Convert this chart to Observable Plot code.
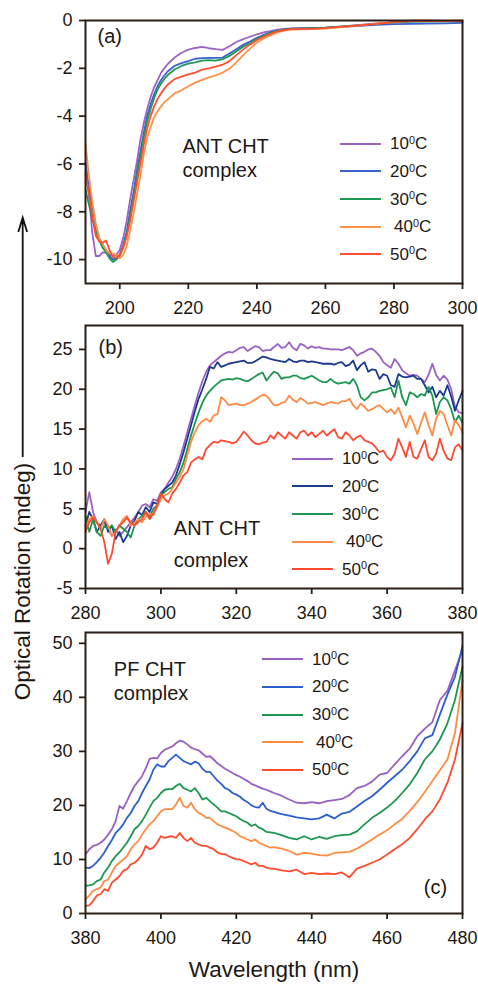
<!DOCTYPE html>
<html><head><meta charset="utf-8">
<script src="https://cdn.jsdelivr.net/npm/d3@7"></script>
<script src="https://cdn.jsdelivr.net/npm/@observablehq/plot@0.6"></script>
<style>
body{margin:0;background:#fff;}
#page{position:relative;width:478px;height:984px;overflow:hidden;background:#fff;font-family:"Liberation Sans",Arial,sans-serif;color:#1e1712;}
.panel{position:absolute;left:0;}
.legend{position:absolute;font-size:17px;line-height:1;}
.legend .row{display:flex;align-items:center;height:27.65px;white-space:nowrap;}
.legend .sw{display:inline-block;width:41px;height:2px;}
.legend .sup{font-size:0.64em;position:relative;top:-0.5em;}
</style></head><body><div id="page"></div>
<script>
// ---------- data ----------
const temps = ["10","20","30","40","50"];

// panel (a): ANT CHT complex, far-UV
const wlA = [190,191,192,193,194,195,196,197,198,199,200,201,202,203,204,205,206,207,208,209,210,211,212,213,214,216,218,220,222,224,226,228,230,232,234,236,238,240,242,244,246,248,250,255,260,265,270,275,280,285,290,295,300];
const a10 = [-5.9,-7.3,-8.9,-9.85,-9.85,-9.7,-9.72,-9.8,-9.85,-9.8,-9.6,-9.1,-8.4,-7.5,-6.7,-5.9,-5.0,-4.3,-3.7,-3.2,-2.8,-2.5,-2.2,-2.0,-1.82,-1.55,-1.35,-1.22,-1.15,-1.1,-1.16,-1.2,-1.23,-1.08,-0.9,-0.78,-0.68,-0.58,-0.5,-0.44,-0.38,-0.35,-0.33,-0.32,-0.3,-0.25,-0.18,-0.12,-0.08,-0.05,-0.04,-0.03,-0.02];
const a20 = [-6.0,-7.0,-7.8,-8.6,-9.1,-9.4,-9.6,-9.85,-10.0,-9.95,-9.8,-9.4,-8.85,-8.0,-7.2,-6.3,-5.5,-4.7,-4.0,-3.5,-3.1,-2.75,-2.5,-2.3,-2.12,-1.9,-1.78,-1.7,-1.6,-1.57,-1.56,-1.56,-1.55,-1.38,-1.2,-1.02,-0.88,-0.72,-0.6,-0.5,-0.42,-0.37,-0.34,-0.32,-0.31,-0.27,-0.22,-0.18,-0.15,-0.14,-0.13,-0.12,-0.1];
const a30 = [-7.1,-7.7,-8.3,-8.8,-9.2,-9.5,-9.7,-9.95,-10.1,-10.0,-9.85,-9.5,-8.95,-8.2,-7.4,-6.5,-5.7,-4.9,-4.2,-3.7,-3.25,-2.9,-2.65,-2.45,-2.28,-2.05,-1.9,-1.8,-1.75,-1.68,-1.66,-1.68,-1.62,-1.48,-1.3,-1.1,-0.95,-0.78,-0.64,-0.52,-0.43,-0.38,-0.35,-0.33,-0.3,-0.25,-0.2,-0.14,-0.08,-0.05,-0.04,-0.04,-0.04];
const a40 = [-5.15,-6.5,-7.6,-8.5,-9.1,-9.35,-9.6,-9.75,-9.75,-9.8,-9.95,-9.8,-9.45,-8.8,-8.1,-7.3,-6.5,-5.6,-4.9,-4.45,-4.05,-3.8,-3.6,-3.42,-3.3,-3.05,-2.92,-2.75,-2.6,-2.48,-2.38,-2.3,-2.18,-2.02,-1.75,-1.45,-1.18,-0.92,-0.75,-0.62,-0.5,-0.42,-0.38,-0.36,-0.34,-0.28,-0.2,-0.13,-0.06,0.0,0.0,-0.02,0.0];
const a50 = [-6.4,-7.3,-8.2,-9.0,-9.25,-9.3,-9.2,-9.6,-9.9,-9.92,-9.8,-9.5,-9.05,-8.4,-7.6,-6.8,-6.0,-5.2,-4.5,-4.0,-3.6,-3.3,-3.05,-2.85,-2.68,-2.45,-2.35,-2.25,-2.18,-2.05,-2.0,-1.93,-1.85,-1.7,-1.45,-1.22,-1.0,-0.82,-0.68,-0.56,-0.45,-0.4,-0.36,-0.36,-0.32,-0.26,-0.2,-0.14,-0.06,-0.02,-0.03,-0.03,-0.02];
const ticksAX = [200,220,240,260,280,300];
const ticksAY = [0,-2,-4,-6,-8,-10];

// panel (b): ANT CHT complex, near-UV
const wlB = [280,281,282,283,284,285,286,287,288,289,290,291,292,293,294,295,296,297,298,299,300,301,302,303,304,305,306,307,308,309,310,311,312,313,314,315,316,317,318,319,320,321,322,323,324,325,326,327,328,329,330,331,332,333,334,335,336,337,338,339,340,341,342,343,344,345,346,347,348,349,350,351,352,353,354,355,356,357,358,359,360,361,362,363,364,365,366,367,368,369,370,371,372,373,374,375,376,377,378,379,380];
const b10 = [4.6,7.1,4.6,3.3,2.9,3.3,2.5,1.6,2.4,1.6,2.1,2.7,3.3,3.9,4.6,5.4,5.6,5.2,6.2,6.0,7.1,7.5,8.3,9.0,10.0,11.3,12.9,14.6,16.3,18.0,19.6,21.0,22.2,23.0,23.4,23.8,24.2,24.5,24.7,24.6,24.9,25.2,25.3,24.8,25.1,25.4,25.3,24.8,24.9,24.9,25.3,25.7,25.2,25.3,25.9,25.2,24.9,25.7,25.5,25.1,25.4,25.2,25.3,25.1,25.1,25.0,25.0,25.0,24.9,25.1,25.3,24.9,24.2,24.5,24.7,25.0,25.1,24.7,24.2,23.4,23.0,22.7,23.8,23.2,22.4,22.0,21.7,21.8,21.7,21.3,20.9,21.8,23.2,21.8,21.1,21.7,21.2,20.0,17.8,17.1,17.0];
const b20 = [2.9,4.6,3.7,2.1,2.9,3.7,2.1,2.9,1.2,2.1,0.8,1.6,2.9,3.5,4.6,4.2,5.2,4.6,5.8,5.6,6.7,7.5,7.9,8.3,9.2,10.6,12.1,13.8,15.5,17.2,18.8,20.0,21.3,22.8,22.6,23.4,22.8,23.0,23.2,23.3,23.4,23.5,23.6,23.3,23.3,23.5,23.8,24.1,24.0,23.8,23.7,23.6,23.5,23.4,23.8,23.5,23.4,23.6,23.6,23.4,23.5,23.4,23.3,23.2,23.2,23.2,23.1,23.3,23.4,22.9,23.1,23.6,22.4,23.0,23.4,22.2,22.5,22.4,21.3,21.9,21.7,20.5,20.3,21.9,21.6,21.5,21.6,21.7,21.3,21.3,20.5,19.6,20.3,19.0,19.8,19.2,20.5,19.1,17.3,18.6,19.8];
const b30 = [4.1,2.1,3.7,2.1,1.6,2.9,2.5,2.9,2.1,2.9,2.5,2.1,1.4,2.9,3.7,4.1,4.6,4.0,5.0,5.4,6.7,7.1,7.5,7.7,8.75,9.6,10.8,12.5,14.2,15.7,17.1,18.3,19.2,19.8,20.3,20.7,21.1,21.2,21.3,21.2,21.4,21.3,21.1,21.0,21.3,21.6,21.9,22.1,21.1,21.7,22.2,22.0,21.3,21.5,21.5,21.7,21.7,21.4,21.3,21.5,21.7,21.4,21.1,20.9,20.9,21.3,20.9,20.7,20.8,20.9,20.7,21.3,20.5,19.0,18.6,19.0,19.6,19.6,19.8,19.9,20.0,20.2,19.0,21.1,19.0,18.0,19.6,19.4,19.0,19.4,19.2,20.3,19.2,16.9,18.4,19.0,18.6,17.5,15.9,16.7,15.8];
const b40 = [2.5,3.7,4.1,3.3,2.5,3.7,2.9,1.6,2.1,2.9,3.7,4.1,2.9,3.3,3.7,3.3,4.0,4.4,4.2,5.2,6.2,6.7,6.9,7.5,8.3,9.0,10.0,11.7,13.4,14.6,15.5,16.0,16.3,15.9,16.7,16.9,19.0,18.6,18.0,18.1,18.2,18.0,18.0,18.2,18.4,18.7,19.0,19.3,19.2,18.6,18.0,18.0,18.3,18.4,19.2,18.7,18.4,18.9,18.6,18.2,18.3,18.4,18.2,18.0,18.2,18.4,18.3,18.2,18.5,18.5,18.8,18.0,17.5,18.2,17.8,17.3,17.5,17.8,18.0,17.5,17.1,17.5,16.9,17.7,16.5,15.2,16.7,15.7,14.4,15.8,17.1,15.5,14.2,16.3,17.3,16.9,15.5,14.2,16.1,15.5,14.6];
const b50 = [2.1,3.3,3.9,3.3,2.5,0.8,-1.9,-0.6,2.1,2.9,3.3,3.9,3.3,2.9,3.3,3.7,4.6,3.7,4.4,5.4,6.9,6.2,5.8,6.9,7.5,8.3,9.2,9.6,10.8,11.2,11.5,11.2,12.5,13.0,13.4,13.3,13.6,13.5,13.4,13.2,13.4,14.0,14.7,14.2,13.6,13.2,13.1,13.3,13.4,14.2,13.8,14.6,14.2,13.8,14.6,14.2,13.8,14.6,14.8,14.2,14.6,14.0,14.4,14.8,14.2,14.6,15.0,14.0,13.8,14.6,14.2,13.6,14.0,14.2,13.6,13.4,13.2,12.7,12.1,12.3,11.5,11.1,11.9,13.8,12.7,11.5,13.4,11.5,11.3,12.5,13.6,11.5,11.1,11.9,13.8,12.3,11.3,11.1,12.7,13.1,12.3];
const ticksBX = [280,300,320,340,360,380];
const ticksBY = [-5,0,5,10,15,20,25];

// panel (c): PF CHT complex, visible
const wlC = [380,381,382,383,384,385,386,387,388,389,390,391,392,393,394,395,396,397,398,399,400,401,402,403,404,405,406,407,408,409,410,411,412,413,414,415,416,417,418,419,420,421,422,423,424,425,426,427,428,429,430,432,434,436,438,440,442,444,446,448,450,452,454,456,458,460,462,464,466,468,470,472,474,476,478,480];
const c10 = [10.9,11.9,12.5,12.7,13.1,13.7,14.6,15.6,17.1,19.9,19.4,20.8,22.3,23.6,24.5,25.4,26.9,28.6,28.8,28.7,29.7,30.3,30.6,30.9,31.5,32.0,31.8,31.3,30.7,30.4,30.2,29.6,29.0,29.1,28.5,27.8,27.3,26.8,26.4,26.0,25.6,25.3,24.9,24.5,24.0,23.7,23.4,23.1,22.9,22.6,22.3,21.8,21.1,20.5,20.4,20.6,20.4,20.8,21.0,21.2,21.9,23.2,23.6,24.4,25.7,26.0,27.6,29.1,30.5,32.8,34.2,35.4,39.5,41.2,45.0,48.8];
const c20 = [8.5,8.4,8.8,9.5,10.3,11.3,12.5,13.6,14.9,15.6,16.5,17.7,18.6,19.9,20.8,22.3,23.6,24.8,26.6,27.6,27.2,27.2,28.2,28.8,29.4,28.8,28.2,27.9,27.6,28.1,27.8,26.8,26.2,26.2,25.4,24.6,24.0,23.2,22.9,22.3,22.0,21.6,21.0,20.6,20.0,19.7,19.6,20.5,19.4,19.0,18.8,18.4,18.1,17.8,17.6,17.4,17.6,18.3,17.6,18.5,18.8,19.8,20.8,21.7,22.9,24.2,25.4,26.6,28.2,30.0,32.4,33.0,36.8,40.5,43.8,49.5];
const c30 = [5.1,5.2,5.4,6.0,6.3,7.6,8.5,9.7,10.6,11.3,12.2,13.1,14.3,15.6,16.2,17.1,18.3,19.6,20.8,21.4,22.3,22.9,23.0,23.0,23.6,24.0,23.2,22.9,22.6,23.2,22.3,21.1,21.4,20.8,20.2,19.6,18.9,18.9,18.6,18.3,18.0,17.5,17.1,16.8,16.2,16.5,15.9,15.6,15.1,15.0,14.9,14.5,14.0,13.7,14.3,13.7,14.2,13.8,14.3,14.5,14.6,15.2,16.5,17.7,18.6,19.6,20.8,22.3,23.9,26.0,28.5,30.0,32.2,35.2,39.5,45.7];
const c40 = [2.6,3.3,4.2,4.5,4.8,6.0,6.3,7.6,8.8,9.4,10.0,10.6,11.9,12.8,13.4,14.6,15.6,16.5,17.1,18.0,18.9,19.3,19.3,19.3,20.2,21.4,19.9,19.6,20.5,19.3,18.6,18.3,17.7,17.7,17.1,16.5,16.2,15.9,15.6,15.3,14.9,14.3,14.0,13.7,13.4,13.7,13.1,12.8,12.5,12.2,12.3,12.0,11.6,10.9,11.2,11.1,10.8,10.7,11.2,11.3,11.4,12.0,12.8,13.7,14.6,15.4,16.5,17.5,19.0,20.6,22.5,24.5,26.5,28.5,33.4,43.2];
const c50 = [1.4,1.5,2.3,3.3,3.6,4.5,4.2,5.7,6.3,6.9,7.9,8.2,9.1,9.4,10.0,10.9,12.5,11.9,12.2,13.1,14.3,14.0,14.2,14.3,14.0,14.9,14.0,13.4,14.0,13.1,12.8,12.5,12.5,12.2,11.9,11.3,11.0,11.0,10.6,10.3,10.0,10.0,9.7,9.4,9.1,9.4,8.8,8.8,8.5,8.3,8.3,8.0,7.8,8.1,7.3,7.5,7.3,7.4,7.3,7.6,6.7,8.3,8.8,9.4,10.0,10.9,11.9,12.8,14.0,15.6,17.4,18.9,21.1,24.2,28.5,35.2];
const ticksCX = [380,400,420,440,460,480];
const ticksCY = [0,10,20,30,40,50];

// ---------- styles ----------
const colorsA = ["#9b63c4","#3a62c9","#1d9a56","#ff9146","#ff4f33"];
const colorsB = ["#9a62c0","#1a3b8d","#1c9650","#ff8a45","#ff4a30"];
const colorsC = ["#9860bf","#2c5fcb","#1c9650","#ff8c42","#ff4b30"];
const INK = "#1e1712";
const FRAME = "#2a1f18";
const FONT = "'Liberation Sans', Arial, sans-serif";

function rows(wl, series) {
  const out = [];
  series.forEach((vals, k) => vals.forEach((v, i) => out.push({wl: wl[i], v, temp: temps[k]})));
  return out;
}

function panel(o) {
  return Plot.plot({
    width: 478, height: o.height,
    marginLeft: 85, marginRight: 16, marginTop: o.mt, marginBottom: o.mb,
    style: {fontFamily: FONT, fontSize: "18px", color: INK, background: "transparent", overflow: "visible"},
    x: {domain: o.xDomain},
    y: {domain: o.yDomain},
    color: {domain: temps, range: o.colors},
    marks: [
      Plot.line(o.data, {x: "wl", y: "v", stroke: "temp", z: "temp", strokeWidth: 1.8}),
      Plot.frame({stroke: FRAME, strokeWidth: 2}),
      Plot.axisX({ticks: o.xTicks, tickSize: 6, tickPadding: 12, tickFormat: d => String(d), label: null,
                  stroke: FRAME, strokeWidth: 1.8, fill: INK, fontSize: 18}),
      Plot.axisY({ticks: o.yTicks, tickSize: 6, tickPadding: 7, tickFormat: d => String(d), label: null,
                  stroke: FRAME, strokeWidth: 1.8, fill: INK, fontSize: 18}),
      ...o.texts.map(t => Plot.text([t.s], {text: d => d, frameAnchor: t.anchor || "top-left", dx: t.dx, dy: t.dy,
                  lineAnchor: "top", textAnchor: t.ta || "start", fontSize: t.size, fill: INK}))
    ]
  });
}

const page = document.getElementById("page");
function place(svg, top) { svg.classList.add("panel"); svg.style.top = top + "px"; page.appendChild(svg); }

place(panel({
  height: 322, mt: 20, mb: 39, xDomain: [190, 300], yDomain: [-11, 0],
  xTicks: ticksAX, yTicks: ticksAY, colors: colorsA,
  data: rows(wlA, [a10, a20, a30, a40, a50]),
  texts: [
    {s: "(a)", dx: 12, dy: 8.3, size: 20},
    {s: "ANT CHT", dx: 97, dy: 118.5, size: 20},
    {s: "complex", dx: 97, dy: 142.3, size: 20}
  ]
}), 0);

place(panel({
  height: 312, mt: 5, mb: 44, xDomain: [280, 380], yDomain: [-5, 28],
  xTicks: ticksBX, yTicks: ticksBY, colors: colorsB,
  data: rows(wlB, [b10, b20, b30, b40, b50]),
  texts: [
    {s: "(b)", dx: 13, dy: 14.7, size: 20},
    {s: "ANT CHT", dx: 88.3, dy: 195.7, size: 20},
    {s: "complex", dx: 88.3, dy: 227.4, size: 20}
  ]
}), 320);

place(panel({
  height: 364, mt: 12, mb: 71, xDomain: [380, 480], yDomain: [0, 52],
  xTicks: ticksCX, yTicks: ticksCY, colors: colorsC,
  data: rows(wlC, [c10, c20, c30, c40, c50]),
  texts: [
    {s: "PF CHT", dx: 28.3, dy: 29.7, size: 20},
    {s: "complex", dx: 28.3, dy: 53, size: 20},
    {s: "(c)", dx: 338.3, dy: 247.2, size: 20},
    {s: "Wavelength (nm)", anchor: "bottom", ta: "middle", dx: 0, dy: 47.5, size: 22.5}
  ]
}), 620);

// legends
function legend(left, top, colors) {
  const div = document.createElement("div");
  div.className = "legend";
  div.style.left = left + "px";
  div.style.top = top + "px";
  temps.forEach((t, k) => {
    const row = document.createElement("div");
    row.className = "row";
    const sw = document.createElement("span");
    sw.className = "sw"; sw.style.background = colors[k];
    const lab = document.createElement("span");
    lab.style.marginLeft = (k === 3 ? 13 : 9) + "px";
    lab.innerHTML = t + '<span class="sup">0</span>C';
    row.appendChild(sw); row.appendChild(lab);
    div.appendChild(row);
  });
  page.appendChild(div);
}
legend(340, 130, colorsA);
legend(292, 445, colorsB);
legend(262, 645.5, colorsC);

// shared y-axis title with arrow
const NS = "http://www.w3.org/2000/svg";
const ov = document.createElementNS(NS, "svg");
ov.setAttribute("width", 50); ov.setAttribute("height", 984);
ov.style.position = "absolute"; ov.style.left = "0px"; ov.style.top = "0px";
const path = document.createElementNS(NS, "path");
path.setAttribute("d", "M22.7,457 L22.7,218 M18.3,232 L22.7,217.5 L27.1,232");
path.setAttribute("fill", "none"); path.setAttribute("stroke", "#111"); path.setAttribute("stroke-width", "1.8");
ov.appendChild(path);
const tx = document.createElementNS(NS, "text");
tx.setAttribute("transform", "translate(29.5,581.5) rotate(-90)");
tx.setAttribute("text-anchor", "middle");
tx.setAttribute("font-family", FONT);
tx.setAttribute("font-size", "22.5");
tx.setAttribute("fill", INK);
tx.textContent = "Optical Rotation (mdeg)";
ov.appendChild(tx);
page.appendChild(ov);
</script></body></html>
